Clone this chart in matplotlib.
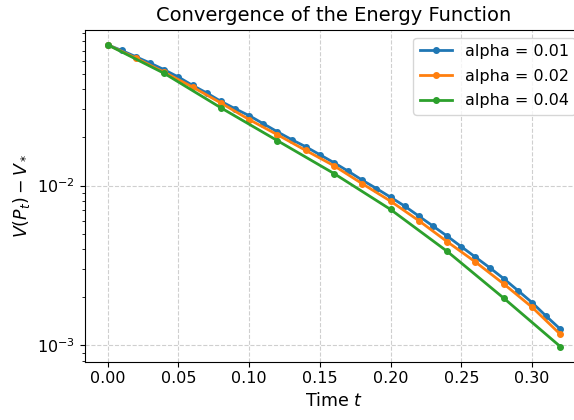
import matplotlib
matplotlib.use("Agg")
import matplotlib.pyplot as plt
import numpy as np

t_a1 = [round(0.01 * i, 2) for i in range(33)]
v_a1 = [0.0761, 0.0701, 0.0640, 0.0585, 0.0531, 0.0478, 0.0424, 0.0380, 0.0337,
        0.0303, 0.0274, 0.0244, 0.0217, 0.0194, 0.0175, 0.0156, 0.0139, 0.0123,
        0.0108, 0.00958, 0.00845, 0.00743, 0.00643, 0.00557, 0.00482, 0.00414,
        0.00356, 0.00306, 0.00261, 0.00220, 0.00185, 0.00152, 0.00126]

t_a2 = [round(0.02 * i, 2) for i in range(17)]
v_a2 = [0.0761, 0.0628, 0.0512, 0.0414, 0.0329, 0.0259, 0.0208, 0.0166, 0.0133,
        0.01026, 0.00798, 0.00602, 0.00445, 0.00332, 0.00242, 0.00173, 0.00117]

t_a4 = [round(0.04 * i, 2) for i in range(9)]
v_a4 = [0.0761, 0.0504, 0.0307, 0.0191, 0.01189, 0.00708, 0.00387, 0.00197, 0.00098]

labels = ["alpha = 0.01", "alpha = 0.02", "alpha = 0.04"]

fig = plt.figure(figsize=(5.74, 4.2), dpi=100)
ax = fig.add_axes([85/574, (420-361.7)/420, (583-85)/574, (361.7-29.7)/420])

for t, v, lab in [(t_a1, v_a1, labels[0]), (t_a2, v_a2, labels[1]), (t_a4, v_a4, labels[2])]:
    ax.plot(t, v, marker='o', markersize=4, linewidth=2, label=lab)

ax.set_yscale('log')
ax.set_title("Convergence of the Energy Function", fontsize=14)
ax.set_xlabel("Time $t$", fontsize=12.5)
ax.set_ylabel("$V(P_t) - V_*$", fontsize=12.5)
ax.tick_params(labelsize=11.5)
ax.grid(True, which='major', linestyle='--', alpha=0.6)
ax.legend(fontsize=11.5, loc='upper right', labelspacing=0.6)

fig.savefig("out.png", dpi=100)
